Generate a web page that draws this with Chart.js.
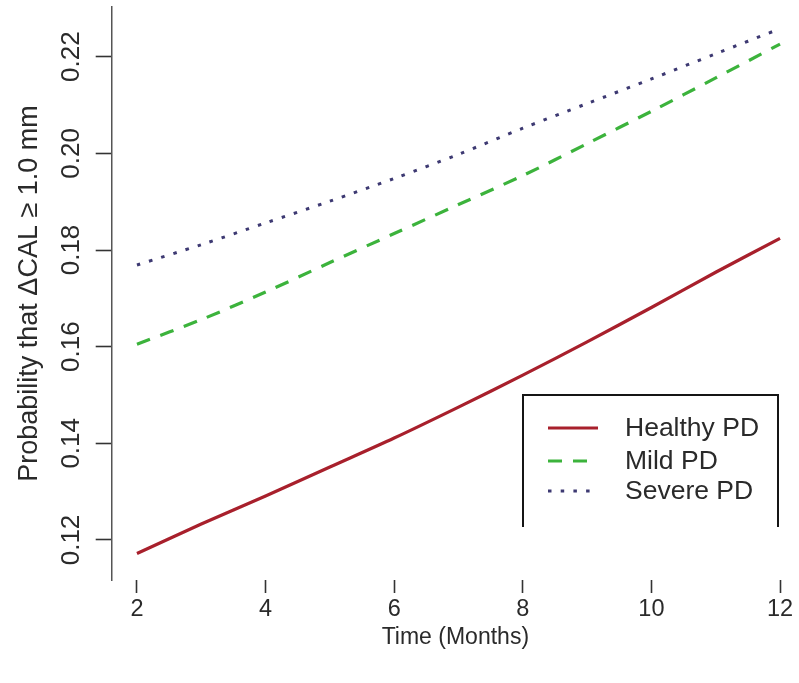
<!DOCTYPE html>
<html>
<head>
<meta charset="utf-8">
<script src="https://cdn.jsdelivr.net/npm/chart.js@4.4.0/dist/chart.umd.min.js"></script>
<style>
  html, body { margin: 0; padding: 0; background: #ffffff; }
  #wrap { width: 799px; height: 683px; }
</style>
</head>
<body>
<div id="wrap"><canvas id="c" width="799" height="683"></canvas></div>
<script>
// ---- data ----
const months = [2, 3, 4, 5, 6, 7, 8, 9, 10, 11, 12];
const healthyPD = [0.1172, 0.1233, 0.1291, 0.1351, 0.1411, 0.1475, 0.1541, 0.1610, 0.1681, 0.1754, 0.1824];
const mildPD    = [0.1605, 0.1656, 0.1713, 0.1774, 0.1834, 0.1894, 0.1954, 0.2020, 0.2087, 0.2156, 0.2226];
const severePD  = [0.1769, 0.1811, 0.1856, 0.1901, 0.1948, 0.1998, 0.2052, 0.2103, 0.2154, 0.2206, 0.2258];
const seriesNames = ['Healthy PD', 'Mild PD', 'Severe PD'];
const xTickValues = [2, 4, 6, 8, 10, 12];
const yTickValues = [0.12, 0.14, 0.16, 0.18, 0.20, 0.22];
const xTitle = 'Time (Months)';
const yTitle = 'Probability that \u0394CAL \u2265 1.0 mm';

const FONT = "'Liberation Sans', Arial, Helvetica, sans-serif";
const TXT = '#2a2a2a';

function pts(vals) { return months.map((m, i) => ({ x: m, y: vals[i] })); }

const rLegend = {
  id: 'rLegend',
  afterDraw(chart) {
    const ctx = chart.ctx;
    const left = 523, right = 778, top = 395, bottom = 527;
    ctx.save();
    ctx.fillStyle = '#ffffff';
    ctx.fillRect(left, top, right - left, bottom - top);
    ctx.strokeStyle = '#151515';
    ctx.lineWidth = 2;
    ctx.setLineDash([]);
    ctx.beginPath();
    ctx.moveTo(left, bottom); ctx.lineTo(left, top); ctx.lineTo(right, top); ctx.lineTo(right, bottom);
    ctx.stroke();
    const rows = [428, 461, 491];
    chart.data.datasets.forEach((ds, i) => {
      const y = rows[i];
      ctx.save();
      ctx.strokeStyle = ds.borderColor;
      ctx.lineWidth = ds.borderWidth;
      ctx.setLineDash(ds.borderDash || []);
      ctx.beginPath();
      ctx.moveTo(548, y); ctx.lineTo(598, y);
      ctx.stroke();
      ctx.restore();
      ctx.fillStyle = TXT;
      ctx.font = "26.5px " + FONT;
      ctx.textAlign = 'left';
      ctx.textBaseline = 'middle';
      ctx.fillText(ds.label, 625, y + 1);
    });
    ctx.restore();
  }
};

new Chart(document.getElementById('c'), {
  type: 'line',
  data: {
    datasets: [
      { label: seriesNames[0], data: pts(healthyPD), borderColor: '#a8202c', borderWidth: 3.2, pointRadius: 0, tension: 0.3, fill: false },
      { label: seriesNames[1], data: pts(mildPD), borderColor: '#3cb33c', borderWidth: 3.2, borderDash: [14, 11], pointRadius: 0, tension: 0.3, fill: false },
      { label: seriesNames[2], data: pts(severePD), borderColor: '#3d3972', borderWidth: 3, borderDash: [3.5, 9.2], pointRadius: 0, tension: 0.3, fill: false }
    ]
  },
  options: {
    responsive: false,
    animation: false,
    devicePixelRatio: 1,
    layout: { padding: { top: 7, left: 0, right: 0, bottom: 0 } },
    plugins: { legend: { display: false }, tooltip: { enabled: false } },
    scales: {
      x: {
        type: 'linear', min: 1.607, max: 12.295,
        afterBuildTicks: s => { s.ticks = xTickValues.map(v => ({ value: v })); },
        afterFit: s => { s.height = 103; s.paddingLeft = 0; s.paddingRight = 0; },
        grid: { drawOnChartArea: false, drawTicks: true, tickLength: 13, tickColor: '#333', tickWidth: 1.6 },
        border: { display: false },
        ticks: { maxRotation: 0, minRotation: 0, padding: 2, color: TXT, font: { family: FONT, size: 23.5 }, callback: v => String(v) },
        title: { display: true, text: xTitle, color: TXT, font: { family: FONT, size: 23 }, padding: { top: 0, bottom: 32 } }
      },
      y: {
        type: 'linear', min: 0.11172, max: 0.23028,
        afterBuildTicks: s => { s.ticks = yTickValues.map(v => ({ value: v })); },
        afterFit: s => { s.width = 111.7; s.paddingTop = 0; s.paddingBottom = 0; },
        grid: { drawOnChartArea: false, drawTicks: true, tickLength: 16, tickColor: '#333', tickWidth: 1.6 },
        border: { display: true, color: '#555', width: 1.5 },
        ticks: { minRotation: 90, maxRotation: 90, crossAlign: 'center', padding: -1.5, color: TXT, font: { family: FONT, size: 26 }, callback: v => v.toFixed(2) },
        title: { display: true, text: yTitle, color: TXT, font: { family: FONT, size: 27 }, padding: { top: 13, bottom: 0 } }
      }
    }
  },
  plugins: [rLegend]
});
</script>
</body>
</html>
